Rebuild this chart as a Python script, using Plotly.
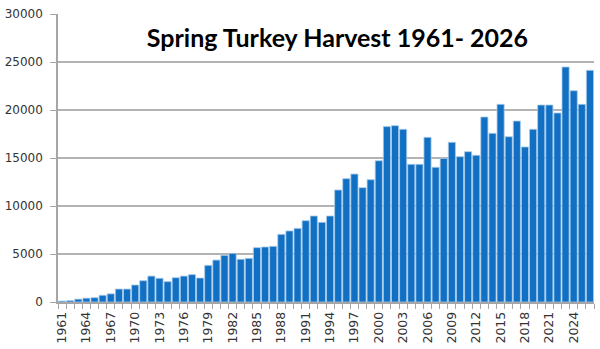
import plotly.graph_objects as go

years = list(range(1961, 2027))
harvest = [100, 150, 300, 400, 450, 700, 850, 1350, 1350, 1770,
           2220, 2700, 2470, 2120, 2530, 2700, 2850, 2500, 3820, 4370,
           4860, 5070, 4450, 4550, 5660, 5730, 5800, 7050, 7400, 7670,
           8470, 8960, 8300, 8960, 11670, 12850, 13330, 11910, 12740, 14720,
           18270, 18370, 17990, 14340, 14340, 17150, 14030, 14960, 16630, 15140,
           15660, 15280, 19270, 17570, 20590, 17220, 18850, 16150, 17990, 20520,
           20520, 19690, 24480, 22010, 20590, 24130]
label_years = list(range(1961, 2027, 3))
y_ticks = [0, 5000, 10000, 15000, 20000, 25000, 30000]
title_text = "Spring Turkey Harvest 1961- 2026"

fig = go.Figure(go.Bar(
    x=years, y=harvest,
    marker=dict(color="#1170C4", line=dict(color="#A9CBEA", width=0.8)),
))

fig.update_layout(
    width=600, height=349,
    margin=dict(l=58, r=6, t=14, b=47),
    paper_bgcolor="white", plot_bgcolor="white",
    bargap=0.12,
    showlegend=False,
    title=dict(text="<b>" + title_text + "</b>", x=0.5625, xanchor="center",
               y=0.89, yanchor="middle",
               font=dict(family="Lato, Open Sans, sans-serif", size=25, color="black")),
    font=dict(family="DejaVu Sans, Verdana, sans-serif", size=12, color="#333333"),
)

fig.update_xaxes(
    range=[1960.5, 2026.5], automargin=False,
    tickmode="array", tickvals=label_years, ticktext=[str(v) for v in label_years],
    tickangle=-90, ticks="", showgrid=False,
    showline=True, linecolor="#a6a6a6", linewidth=1.5,
    ticklabelstandoff=3,
    tickfont=dict(family="DejaVu Sans, Verdana, sans-serif", size=12.5, color="#333333"),
    minor=dict(tick0=1960.5, dtick=1, ticks="outside", ticklen=5,
               tickcolor="#a6a6a6", tickwidth=1, showgrid=False),
)

fig.update_yaxes(
    range=[0, 30000], automargin=False, tickmode="array", tickvals=y_ticks,
    ticktext=[str(v) for v in y_ticks],
    showgrid=True, gridcolor="#b3b3b3", gridwidth=1.5,
    showline=True, linecolor="#a6a6a6", linewidth=1.5,
    ticks="outside", ticklen=6, tickcolor="#a6a6a6",
    ticklabelstandoff=5,
    tickfont=dict(family="DejaVu Sans, Verdana, sans-serif", size=12, color="#333333"),
    zeroline=False,
)

fig.write_html("out.html")
